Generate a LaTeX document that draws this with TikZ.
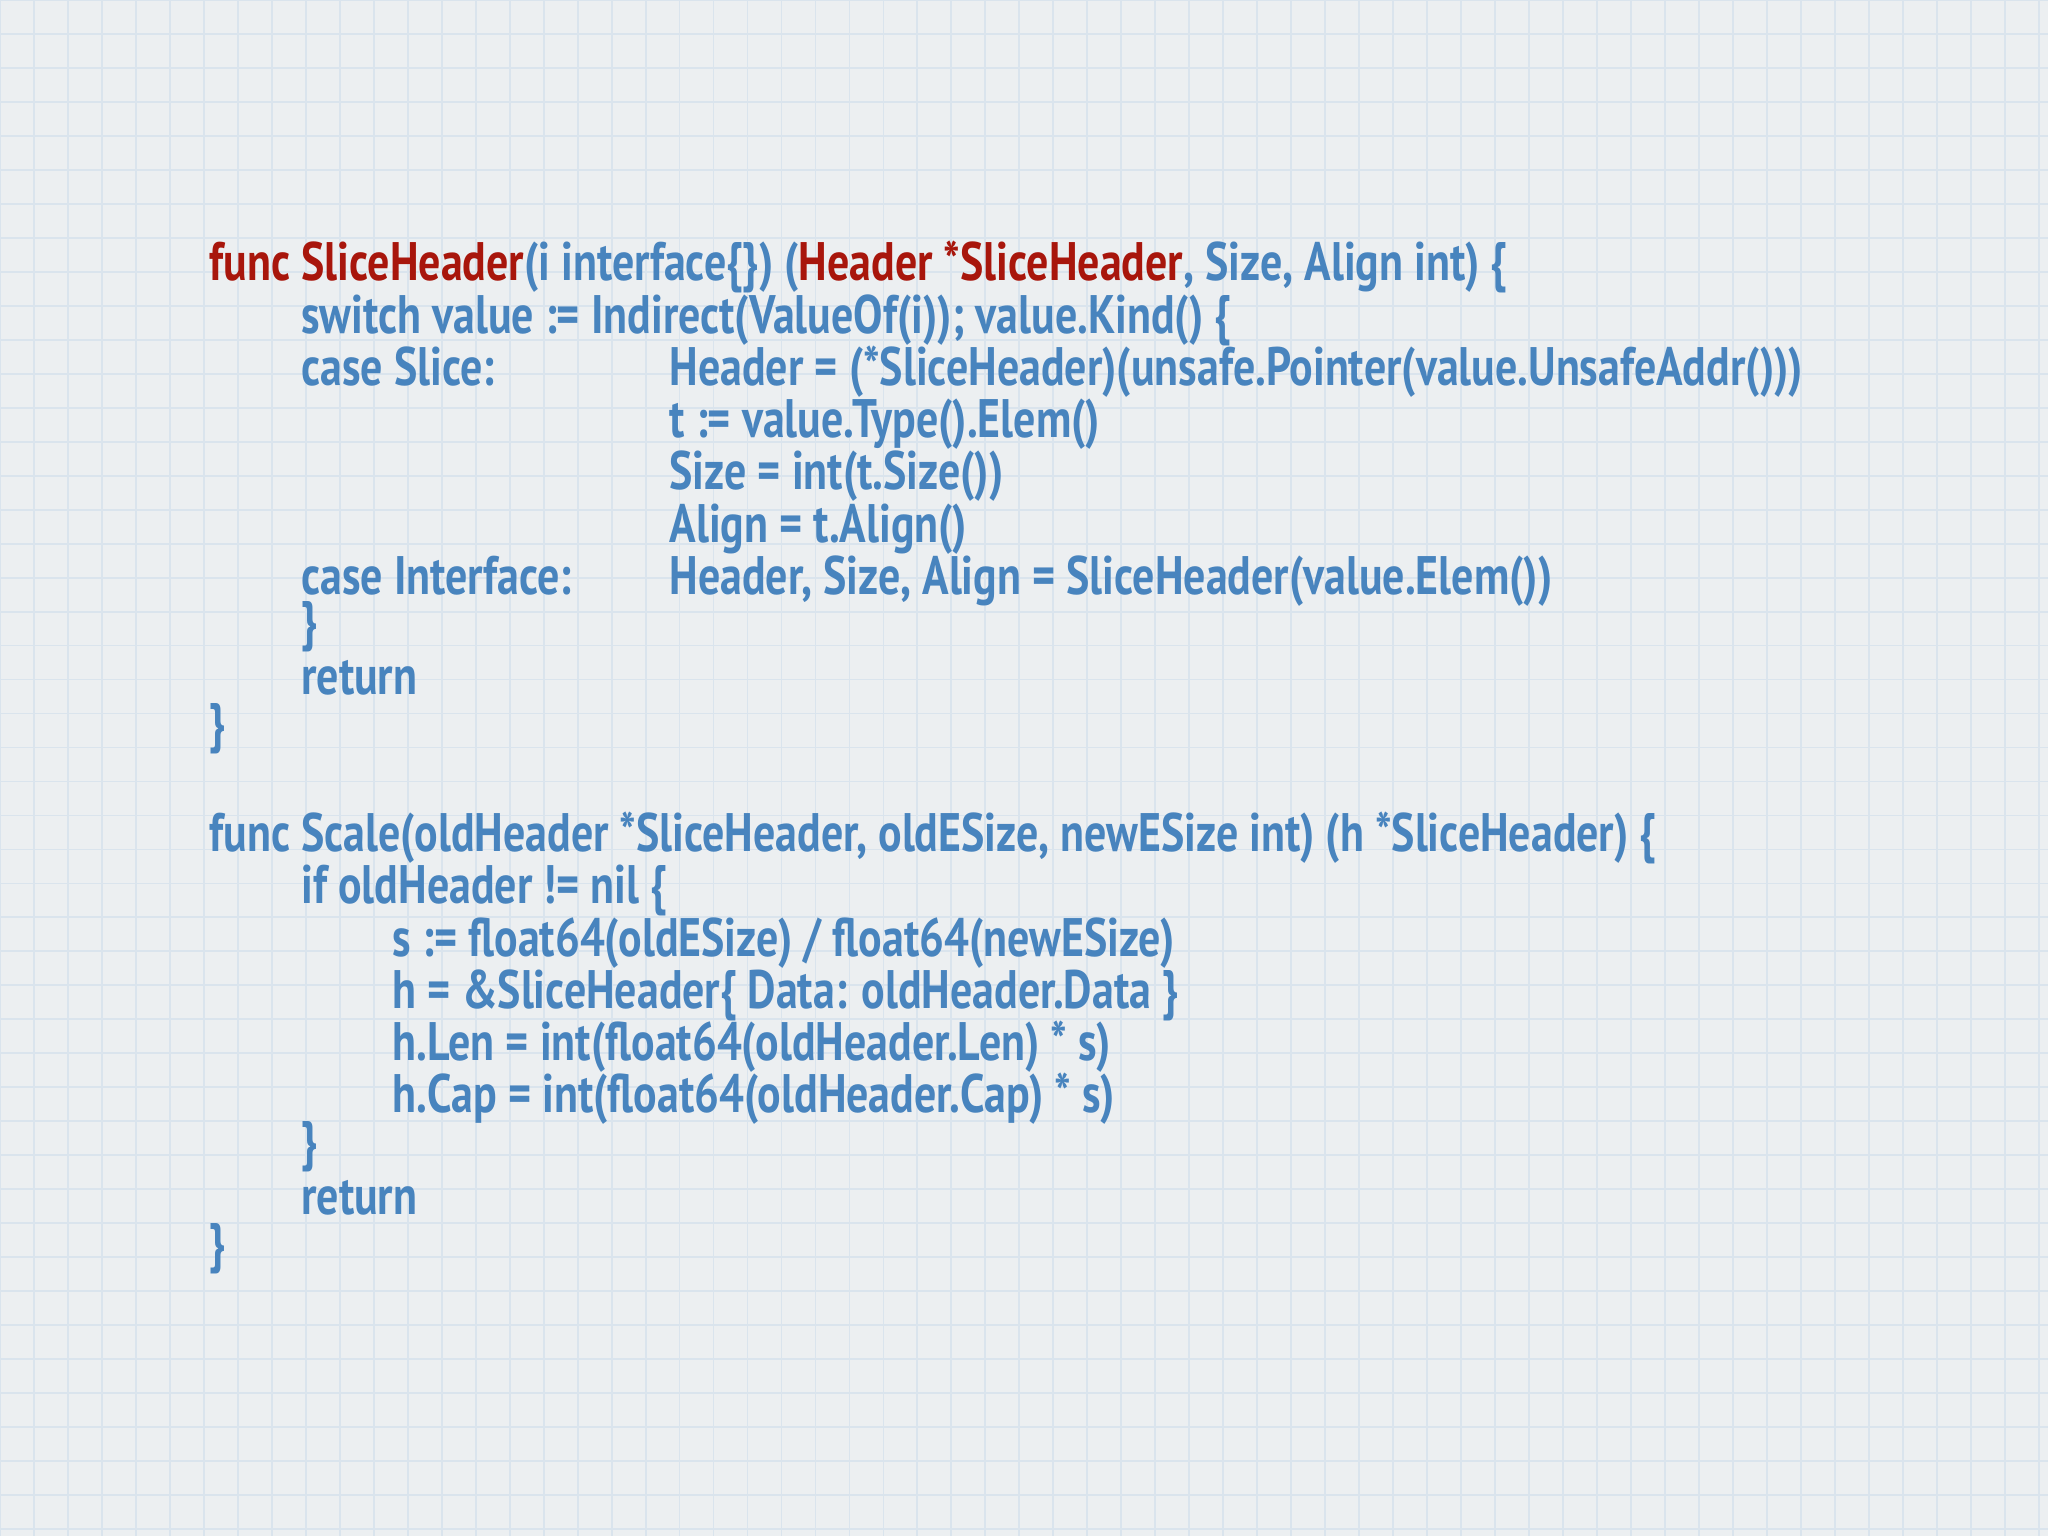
\documentclass[tikz,border=0pt]{standalone}
\usepackage{fontspec}
\setmainfont[FakeStretch=0.81]{PT Sans}
\begin{document}
\begin{tikzpicture}[x=0.01cm,y=-0.01cm,
  code/.style={anchor=base west,inner sep=0pt,font=\fontsize{11.8}{14}\selectfont\bfseries,text=cblue},
  ]
\definecolor{cblue}{RGB}{72,132,190}
\definecolor{cred}{RGB}{168,22,12}
\definecolor{bg}{RGB}{236,239,241}
\definecolor{gridc}{RGB}{218,228,237}
\fill[bg] (0,0) rectangle (1568,1176);
\useasboundingbox (0,0) rectangle (1568,1176);
\draw[gridc,line width=0.4pt,step=0.26cm] (0,0) grid (1568,1176);
\node[code] (a1) at (160,215) {\textcolor{cred}{func SliceHeader}(i interface\{\}) (\textcolor{cred}{Header *SliceHeader}, Size, Align int) \{};
\node[code] (a2) at (230,255) {switch value := Indirect(ValueOf(i)); value.Kind() \{};
\node[code] (a3) at (230,295) {case Slice:};
\node[code] (a3b) at (512,295) {Header = (*SliceHeader)(unsafe.Pointer(value.UnsafeAddr()))};
\node[code] (a4) at (512,335) {t := value.Type().Elem()};
\node[code] (a5) at (512,375) {Size = int(t.Size())};
\node[code] (a6) at (512,415) {Align = t.Align()};
\node[code] (a7) at (230,455) {case Interface:};
\node[code] (a7b) at (512,455) {Header, Size, Align = SliceHeader(value.Elem())};
\node[code] (a8) at (230,490) {\}};
\node[code] (a9) at (230,532) {return};
\node[code] (a10) at (160,568) {\}};
\node[code] (b1) at (160,652) {func Scale(oldHeader *SliceHeader, oldESize, newESize int) (h *SliceHeader) \{};
\node[code] (b2) at (230,692) {if oldHeader != nil \{};
\node[code] (b3) at (300,732) {s := float64(oldESize) / float64(newESize)};
\node[code] (b4) at (300,772) {h = \&SliceHeader\{ Data: oldHeader.Data \}};
\node[code] (b5) at (300,812) {h.Len = int(float64(oldHeader.Len) * s)};
\node[code] (b6) at (300,852) {h.Cap = int(float64(oldHeader.Cap) * s)};
\node[code] (b7) at (230,888) {\}};
\node[code] (b8) at (230,930) {return};
\node[code] (b9) at (160,966) {\}};
\end{tikzpicture}
\end{document}
